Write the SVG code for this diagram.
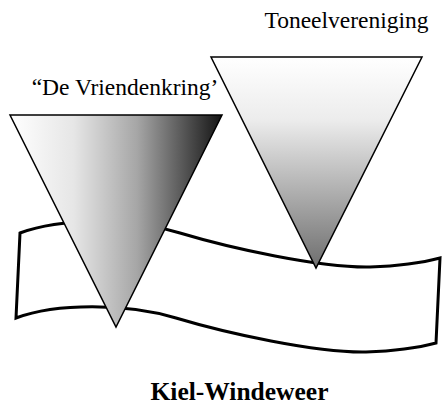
<svg xmlns="http://www.w3.org/2000/svg" width="442" height="405" viewBox="0 0 442 405">
  <defs>
    <linearGradient id="gLeft" gradientUnits="userSpaceOnUse" x1="10" y1="0" x2="222" y2="0">
      <stop offset="0" stop-color="#ffffff"/>
      <stop offset="0.3" stop-color="#e6e6e6"/>
      <stop offset="0.6" stop-color="#a6a6a6"/>
      <stop offset="1" stop-color="#141414"/>
    </linearGradient>
    <linearGradient id="gRight" gradientUnits="userSpaceOnUse" x1="0" y1="57" x2="0" y2="268">
      <stop offset="0" stop-color="#ffffff"/>
      <stop offset="0.3" stop-color="#ececec"/>
      <stop offset="1" stop-color="#6e6e6e"/>
    </linearGradient>
    <style>
      .tri { stroke: #000; stroke-width: 1.5; stroke-linejoin: miter; }
      .banner { fill: #fff; stroke: #000; stroke-width: 3; stroke-linejoin: miter; }
      .lbl { font-family: "Liberation Serif", "Times New Roman", serif; font-size: 23.5px; fill: #000; }
      .title { font-family: "Liberation Serif", "Times New Roman", serif; font-size: 25.5px; font-weight: bold; fill: #000; }
    </style>
  </defs>
  <g id="banner">
    <path class="banner" d="M20,233 C60,218 130,218 180,233 C230,248 320,268 370,267 C400,266 425,262 440,258 L436,343 C421,347 396,351 366,352 C316,353 226,333 176,318 C126,303 56,303 16,318 Z"/>
  </g>
  <g id="triangle-right">
    <polygon class="tri" points="211,57 422,57 316,268" fill="url(#gRight)"/>
  </g>
  <g id="triangle-left">
    <polygon class="tri" points="10,115 222,115 116,327" fill="url(#gLeft)"/>
  </g>
  <g id="label-toneel">
    <text class="lbl" x="346.5" y="28" text-anchor="middle">Toneelvereniging</text>
  </g>
  <g id="label-vriendenkring">
    <text class="lbl" x="125" y="95" text-anchor="middle">“De Vriendenkring’</text>
  </g>
  <g id="title">
    <text class="title" x="239.5" y="400" text-anchor="middle">Kiel-Windeweer</text>
  </g>
  <g id="connectors"/>
</svg>
